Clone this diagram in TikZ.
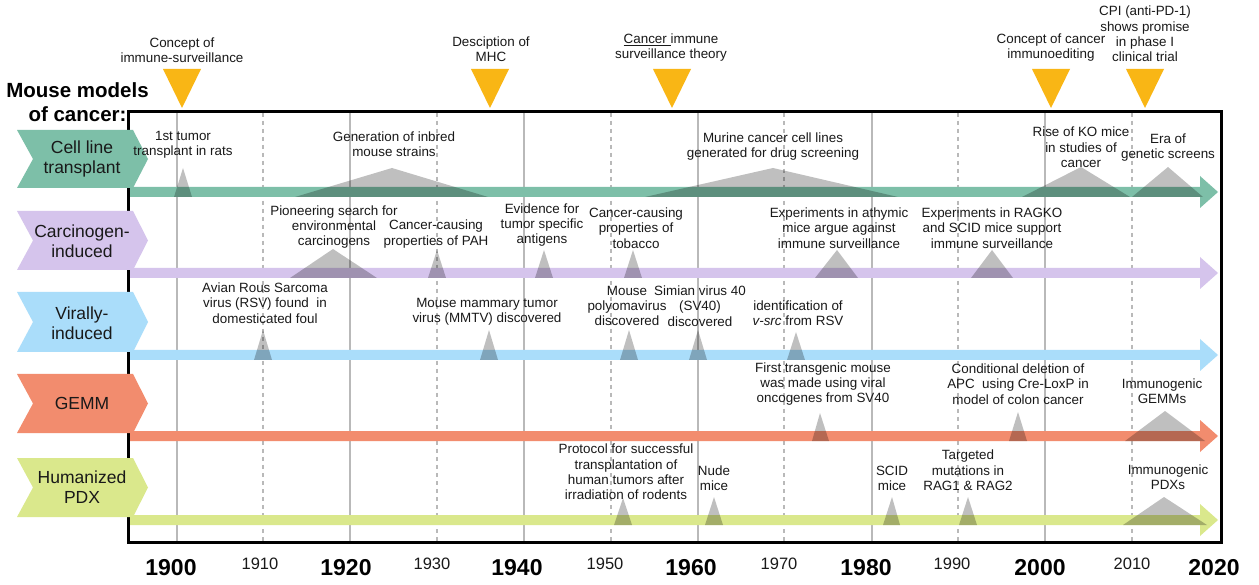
\documentclass[tikz,border=0pt]{standalone}
\usepackage{fontspec}
\setmainfont{Liberation Sans}
\definecolor{cgreen}{RGB}{125,191,168}
\definecolor{cpurple}{RGB}{213,196,236}
\definecolor{cblue}{RGB}{170,221,250}
\definecolor{corange}{RGB}{242,140,110}
\definecolor{clime}{RGB}{218,232,140}
\definecolor{cyellow}{RGB}{249,182,21}
\definecolor{cgrid}{RGB}{185,185,185}
\definecolor{ctext}{RGB}{25,25,25}
\begin{document}
\begin{tikzpicture}[x=1pt,y=-1pt,
  lbl/.style={font=\fontsize{13.4}{15.3}\selectfont, align=center, inner sep=0pt, text=ctext},
  rowlbl/.style={font=\fontsize{17.5}{20}\selectfont, align=center, inner sep=0pt, text=ctext},
  evt/.style={fill=black, fill opacity=0.25},
  milestone/.style={fill=cyellow},
  gridsolid/.style={draw=cgrid, line width=1.8pt},
  griddash/.style={draw=cgrid, line width=1.8pt, dash pattern=on 4pt off 4pt},
  bigyear/.style={font=\fontsize{23}{25}\selectfont\bfseries, inner sep=0pt},
  smallyear/.style={font=\fontsize{16.5}{18}\selectfont, inner sep=0pt, text=ctext}]
\useasboundingbox (0,0) rectangle (1259,585);
\fill[white] (0,0) rectangle (1259,585);

% grid lines
\foreach \x in {177,350,524,698,872,1045} \draw[gridsolid] (\x,113) -- (\x,541);
\foreach \x in {263,437,611,784,958,1132} \draw[griddash] (\x,113) -- (\x,541);

% bars with arrowheads
\fill[cgreen]  (130,187) -- (1200,187) -- (1200,176) -- (1218,192) -- (1200,208) -- (1200,197) -- (130,197) -- cycle;
\fill[cpurple] (130,268) -- (1200,268) -- (1200,257) -- (1218,273) -- (1200,289) -- (1200,278) -- (130,278) -- cycle;
\fill[cblue]   (130,350) -- (1200,350) -- (1200,339) -- (1218,355) -- (1200,371) -- (1200,360) -- (130,360) -- cycle;
\fill[corange] (130,431) -- (1200,431) -- (1200,420) -- (1218,436) -- (1200,452) -- (1200,441) -- (130,441) -- cycle;
\fill[clime]   (130,515) -- (1200,515) -- (1200,504) -- (1218,520) -- (1200,536) -- (1200,525) -- (130,525) -- cycle;

% frame
\draw[line width=3pt] (128,112) rectangle (1221,542);

% event triangles row 1
\fill[evt] (174,197) -- (183,168) -- (192,197) -- cycle;
\fill[evt] (295,197) -- (392,168) -- (488,197) -- cycle;
\fill[evt] (645,197) -- (773,168) -- (898,197) -- cycle;
\fill[evt] (1022,197) -- (1081,167) -- (1130,197) -- cycle;
\fill[evt] (1132,197) -- (1168,167) -- (1203,197) -- cycle;
% row 2
\fill[evt] (290,278) -- (333,249) -- (377,278) -- cycle;
\fill[evt] (428,278) -- (437,250) -- (446,278) -- cycle;
\fill[evt] (535,278) -- (544,250) -- (553,278) -- cycle;
\fill[evt] (624,278) -- (633,250) -- (642,278) -- cycle;
\fill[evt] (815,278) -- (837,250) -- (858,278) -- cycle;
\fill[evt] (971,278) -- (992,250) -- (1013,278) -- cycle;
% row 3
\fill[evt] (254,360) -- (263,330) -- (272,360) -- cycle;
\fill[evt] (480,360) -- (489,330) -- (498,360) -- cycle;
\fill[evt] (620,360) -- (629,330) -- (638,360) -- cycle;
\fill[evt] (689,360) -- (698,330) -- (707,360) -- cycle;
\fill[evt] (787,360) -- (796,332) -- (805,360) -- cycle;
% row 4
\fill[evt] (812,441) -- (820,413) -- (829,441) -- cycle;
\fill[evt] (1009,441) -- (1018,412) -- (1027,441) -- cycle;
\fill[evt] (1125,441) -- (1165,411) -- (1205,441) -- cycle;
% row 5
\fill[evt] (614,525) -- (623,498) -- (632,525) -- cycle;
\fill[evt] (705,525) -- (714,497) -- (723,525) -- cycle;
\fill[evt] (883,525) -- (892,497) -- (900,525) -- cycle;
\fill[evt] (959,525) -- (968,497) -- (977,525) -- cycle;
\fill[evt] (1123,525) -- (1164,497) -- (1207,525) -- cycle;

% milestone triangles
\foreach \x in {182,490,672,1051,1145}
  \fill[milestone] (\x-19,69) -- (\x+19,69) -- (\x,108) -- cycle;

% milestone labels
\node[lbl] (m1) at (182,50.5) {Concept of\\immune-surveillance};
\node[lbl] (m2) at (491,49) {Desciption of\\MHC};
\node[lbl] (m3) at (671,47.5) {\underline{Cancer\ }immune\\surveillance theory};
\node[lbl] (m4) at (1051,47.5) {Concept of cancer\\immunoediting};
\node[lbl] (m5) at (1145,34) {CPI (anti-PD-1)\\shows promise\\in phase I\\clinical trial};

% title
\node[font=\fontsize{20.5}{23.5}\selectfont\bfseries, align=center, inner sep=0pt] (title) at (77.5,102) {Mouse models\\of cancer:};

% chevrons
\fill[cgreen]  (17,130) -- (133,130) -- (148,159) -- (133,188) -- (17,188) -- (33,159) -- cycle;
\fill[cpurple] (17,211) -- (133,211) -- (148,240.5) -- (133,270) -- (17,270) -- (33,240.5) -- cycle;
\fill[cblue]   (17,292) -- (133,292) -- (148,322) -- (133,352) -- (17,352) -- (33,322) -- cycle;
\fill[corange] (17,374) -- (133,374) -- (148,403.5) -- (133,433) -- (17,433) -- (33,403.5) -- cycle;
\fill[clime]   (17,458) -- (133,458) -- (148,487.5) -- (133,517) -- (17,517) -- (33,487.5) -- cycle;
\node[rowlbl] (r1) at (82,158.5) {Cell line\\transplant};
\node[rowlbl] (r2) at (82,241.5) {Carcinogen-\\induced};
\node[rowlbl] (r3) at (82,323) {Virally-\\induced};
\node[rowlbl] (r4) at (82,403) {GEMM};
\node[rowlbl] (r5) at (82,487.5) {Humanized\\PDX};

% row 1 labels
\node[lbl] (e11) at (183,144.5) {1st tumor\\transplant in rats};
\node[lbl] (e12) at (394,144.5) {Generation of inbred\\mouse strains};
\node[lbl] (e13) at (773,146.5) {Murine cancer cell lines\\generated for drug screening};
\node[lbl] (e14) at (1081,147.5) {Rise of KO mice\\in studies of\\cancer};
\node[lbl] (e15) at (1168,147.5) {Era of\\genetic screens};
% row 2 labels
\node[lbl] (e21) at (334,227) {Pioneering search for\\environmental\\carcinogens};
\node[lbl] (e22) at (436,234) {Cancer-causing\\properties of PAH};
\node[lbl] (e23) at (542,225) {Evidence for\\tumor specific\\antigens};
\node[lbl] (e24) at (636,228) {Cancer-causing\\properties of\\tobacco};
\node[lbl] (e25) at (839,228) {Experiments in athymic\\mice argue against\\immune surveillance};
\node[lbl] (e26) at (992,228) {Experiments in RAGKO\\and SCID mice support\\immune surveillance};
% row 3 labels
\node[lbl] (e31) at (265,303) {Avian Rous Sarcoma\\virus (RSV) found\ \ in\\domesticated foul};
\node[lbl] (e32) at (487,311.5) {Mouse mammary tumor\\virus (MMTV) discovered};
\node[lbl] (e33) at (627,306) {Mouse\\polyomavirus\\discovered};
\node[lbl] (e34) at (700,306) {Simian virus 40\\(SV40)\\discovered};
\node[lbl] (e35) at (798,313.5) {identification of\\\textit{v-src} from RSV};
% row 4 labels
\node[lbl] (e41) at (823,384) {First transgenic mouse\\was made using viral\\oncogenes from SV40};
\node[lbl] (e42) at (1018,384) {Conditional deletion of\\APC\ \ using Cre-LoxP in\\model of colon cancer};
\node[lbl] (e43) at (1162,391.5) {Immunogenic\\GEMMs};
% row 5 labels
\node[lbl] (e51) at (626,472) {Protocol for successful\\transplantation of\\human tumors after\\irradiation of rodents};
\node[lbl] (e52) at (714,478.5) {Nude\\mice};
\node[lbl] (e53) at (892,478.5) {SCID\\mice};
\node[lbl] (e54) at (968,470.5) {Targeted\\mutations in\\RAG1 \& RAG2};
\node[lbl] (e55) at (1168,477.5) {Immunogenic\\PDXs};

% year labels
\node[bigyear] (y1900) at (171,568) {1900};
\node[smallyear] (y1910) at (260,564) {1910};
\node[bigyear] (y1920) at (346,568) {1920};
\node[smallyear] (y1930) at (432,564) {1930};
\node[bigyear] (y1940) at (517,568) {1940};
\node[smallyear] (y1950) at (605,564) {1950};
\node[bigyear] (y1960) at (691,568) {1960};
\node[smallyear] (y1970) at (779,564) {1970};
\node[bigyear] (y1980) at (866,568) {1980};
\node[smallyear] (y1990) at (952,564) {1990};
\node[bigyear] (y2000) at (1040,568) {2000};
\node[smallyear] (y2010) at (1132,564) {2010};
\node[bigyear] (y2020) at (1214,568) {2020};
\end{tikzpicture}
\end{document}
